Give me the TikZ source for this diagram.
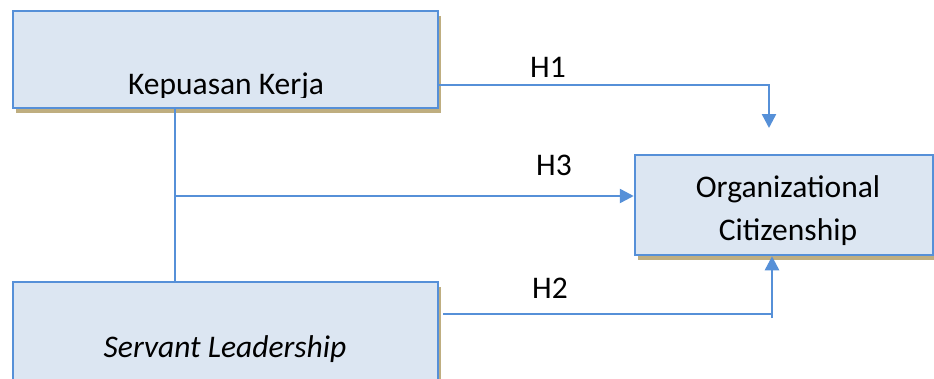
\documentclass[tikz,border=0pt]{standalone}
\usepackage{fontspec}
\setmainfont{Carlito}
\usepackage{tikz}
\usetikzlibrary{arrows.meta,shadows}
\definecolor{boxline}{RGB}{86,144,216}
\definecolor{boxfill}{RGB}{220,230,242}
\definecolor{shadowtan}{RGB}{191,174,128}

\begin{document}
\begin{tikzpicture}[x=1pt,y=-1pt,%[y=1cm,x=1cm]
		box/.style={draw=boxline,line width=2.5pt,fill=boxfill,inner sep=0pt,
			drop shadow={shadow xshift=3pt,shadow yshift=-5pt,fill=shadowtan,opacity=1}},
		link/.style={draw=boxline,line width=2.5pt},
		arr/.style={-{Triangle[length=14pt,width=14pt]}},
		txt/.style={font=\fontsize{31.5}{43}\selectfont,inner sep=0pt,anchor=base}]
				\useasboundingbox (0,0) rectangle (934,378);
				\node[box,minimum width=425pt,minimum height=97pt] (kk) at (225.5,59.5) {};
				\node[box,minimum width=425pt,minimum height=113pt] (sl) at (225.5,338.5) {};
				\node[box,minimum width=298pt,minimum height=100pt] (oc) at (784,205) {};
				\begin{scope}
				 \clip (13,11) rectangle (438,97);%text cut off by the box
				 \node[txt] (kktext) at (226,94) {Kepuasan Kerja};
				\end{scope}
				\node[txt] (sltext) at (225,357) {\itshape Servant Leadership};
				\node[txt,align=center] (octext) at (788,240) {Organizational\\Citizenship};
				 \coordinate (h1tip) at (769,128);
				 \coordinate (join) at (175,196);
				 \coordinate (h2a) at (443,314);
				 \coordinate (h2b) at (772,318);
				 \draw[link,arr] ([yshift=-25.5pt]kk.east) -| (h1tip);
				 \draw[link] (join |- kk.south) -- (join |- sl.north);
				 \draw[link,arr] (join) -- (oc.west |- join);
				 \draw[link] (h2a) -- (h2a -| h2b);
				 \draw[link,arr] (h2b) -- (h2b |- oc.south);
				\node[txt] (h1) at (548,77) {H1};
				\node[txt] (h3) at (554,175) {H3};
				\node[txt] (h2) at (550,298) {H2};
\end{tikzpicture}
\end{document}
